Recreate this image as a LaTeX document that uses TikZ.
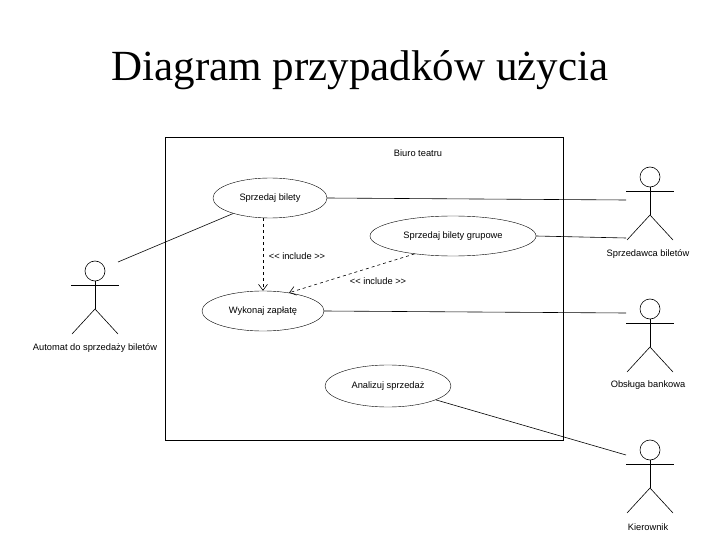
\documentclass[tikz,border=0pt]{standalone}
\usepackage{fontspec}
\setmainfont{Liberation Serif}
\newfontfamily\arialf{Liberation Sans}
\usetikzlibrary{shapes.geometric,arrows.meta}
\begin{document}
\begin{tikzpicture}[x=1pt,y=-1pt,
  uc/.style={draw,ellipse,inner sep=0pt,font=\arialf\fontsize{9.3}{11}\selectfont},
  lbl/.style={font=\arialf\fontsize{9.3}{11}\selectfont,inner sep=1pt},
  ln/.style={draw,line width=0.6pt},
  inc/.style={ln,dashed,-{Straight Barb[length=6pt,width=9pt]}}]
\useasboundingbox (0,0) rectangle (720,540);
\node (title) at (360,70) {\fontsize{43}{50}\selectfont Diagram przypadków użycia};
\draw[ln] (165,137) rectangle (563,440);
\node[lbl] (sys) at (418,153) {Biuro teatru};
\node[uc,minimum width=114,minimum height=40] (sb) at (270,198) {Sprzedaj bilety};
\node[uc,minimum width=166,minimum height=40] (sg) at (453,236) {Sprzedaj bilety grupowe};
\node[uc,minimum width=122,minimum height=40] (wz) at (263,311) {Wykonaj zapłatę};
\node[uc,minimum width=126,minimum height=42] (as) at (388,386) {Analizuj sprzedaż};
% actors
\foreach \n/\x/\y in {a/95/271, s/650/177, o/650/309, k/650/450}{
  \draw[ln] (\x,\y) circle (10);
  \draw[ln] (\x,\y+10) -- (\x,\y+38);
  \draw[ln] (\x-24,\y+14) -- (\x+24,\y+14);
  \draw[ln] (\x-23,\y+63) -- (\x,\y+38) -- (\x+23,\y+63);
  \coordinate (\n) at (\x,\y);
}
\node[lbl] (la) at (95,348) {Automat do sprzedaży biletów};
\node[lbl] (ls) at (648,254) {Sprzedawca biletów};
\node[lbl] (lo) at (648,385) {Obsługa bankowa};
\node[lbl] (lk) at (648,527) {Kierownik};
\coordinate (ah) at (118,262);
\coordinate (sh) at (626,200);
\coordinate (sh2) at (626,238);
\coordinate (oh) at (626,313);
\coordinate (kh) at (626,455);
\draw[ln] (ah) -- (sb);
\draw[ln] (sb.east) -- (sh);
\draw[ln] (sg.east) -- (sh2);
\draw[ln] (wz.east) -- (oh);
\draw[ln] (as) -- (kh);
\draw[inc] (sb.south -| 263,0) -- (wz.north -| 263,0);
\draw[inc] (sg.205) -- (wz.35);
\node[lbl] (i1) at (297,256) {<< include >>};
\node[lbl] (i2) at (378,281) {<< include >>};
\end{tikzpicture}
\end{document}
